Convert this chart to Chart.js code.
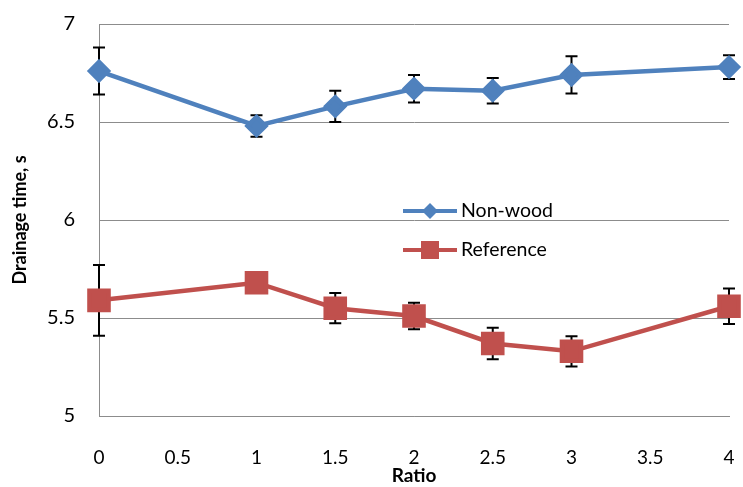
<!DOCTYPE html>
<html>
<head>
<meta charset="utf-8">
<script src="https://cdn.jsdelivr.net/npm/chart.js@4"></script>
<style>
  html, body { margin: 0; padding: 0; background: #fff; }
  #wrap { width: 743px; height: 487px; }
</style>
</head>
<body>
<div id="wrap"><canvas id="myChart" width="743" height="487"></canvas></div>
<script>
const ratios = [0, 1, 1.5, 2, 2.5, 3, 4];
const nonWood = [6.76, 6.48, 6.58, 6.67, 6.66, 6.74, 6.78];
const nonWoodErr = [0.12, 0.055, 0.08, 0.07, 0.065, 0.095, 0.06];
const reference = [5.59, 5.68, 5.55, 5.51, 5.37, 5.33, 5.56];
const referenceErr = [0.18, 0.02, 0.077, 0.068, 0.08, 0.077, 0.09];
const seriesNames = ['Non-wood', 'Reference'];
const seriesColors = ['#4F81BD', '#C0504D'];

const font = "Lato, 'Open Sans', sans-serif";

const toPoints = (vals) => vals.map((v, i) => ({ x: ratios[i], y: v }));
const plainNum = (v) => String(Math.round(v * 10) / 10);

// black error bars, drawn under the markers
const errorBars = {
  id: 'errorBars',
  beforeDatasetsDraw(chart) {
    const { ctx, scales: { x, y } } = chart;
    const errs = [nonWoodErr, referenceErr];
    ctx.save();
    ctx.strokeStyle = '#000';
    ctx.lineWidth = 2;
    chart.data.datasets.forEach((ds, d) => {
      ds.data.forEach((p, i) => {
        const px = x.getPixelForValue(p.x);
        const top = y.getPixelForValue(p.y + errs[d][i]);
        const bot = y.getPixelForValue(p.y - errs[d][i]);
        ctx.beginPath();
        ctx.moveTo(px, top); ctx.lineTo(px, bot);
        ctx.moveTo(px - 6, top); ctx.lineTo(px + 6, top);
        ctx.moveTo(px - 6, bot); ctx.lineTo(px + 6, bot);
        ctx.stroke();
      });
    });
    ctx.restore();
  }
};

// legend sitting inside the plot
const innerLegend = {
  id: 'innerLegend',
  afterDraw(chart) {
    const { ctx } = chart;
    const rows = [211, 250];
    ctx.save();
    chart.data.datasets.forEach((ds, i) => {
      const yy = rows[i];
      ctx.strokeStyle = ds.borderColor;
      ctx.lineWidth = 4;
      ctx.beginPath();
      ctx.moveTo(403, yy); ctx.lineTo(457, yy);
      ctx.stroke();
      ctx.fillStyle = ds.borderColor;
      if (ds.pointStyle === 'rectRot') {
        ctx.beginPath();
        ctx.moveTo(430, yy - 8); ctx.lineTo(438, yy); ctx.lineTo(430, yy + 8); ctx.lineTo(422, yy);
        ctx.closePath(); ctx.fill();
      } else {
        ctx.fillRect(421, yy - 9, 18, 18);
      }
      ctx.fillStyle = '#000';
      ctx.font = '19.5px ' + font;
      ctx.textBaseline = 'middle';
      ctx.fillText(ds.label, 461, yy);
    });
    ctx.restore();
  }
};

new Chart(document.getElementById('myChart'), {
  type: 'line',
  data: {
    datasets: [{
      label: seriesNames[0],
      data: toPoints(nonWood),
      borderColor: seriesColors[0],
      backgroundColor: seriesColors[0],
      borderWidth: 4.5,
      pointStyle: 'rectRot',
      pointRadius: 9,
      pointHoverRadius: 9,
      clip: false
    }, {
      label: seriesNames[1],
      data: toPoints(reference),
      borderColor: seriesColors[1],
      backgroundColor: seriesColors[1],
      borderWidth: 4.5,
      pointStyle: 'rect',
      pointRadius: 13.5,
      pointHoverRadius: 13.5,
      clip: false
    }]
  },
  options: {
    responsive: false,
    animation: false,
    layout: { autoPadding: false, padding: { top: 24, right: 14, left: 0, bottom: 0 } },
    plugins: {
      legend: { display: false },
      tooltip: { enabled: false }
    },
    scales: {
      x: {
        type: 'linear',
        min: 0, max: 4,
        grid: { display: false, drawTicks: false },
        border: { color: '#8c8c8c', width: 1 },
        ticks: { stepSize: 0.5, color: '#000', padding: 30, font: { family: font, size: 19 }, callback: plainNum },
        title: { display: true, text: 'Ratio', color: '#000', padding: { top: 0, bottom: 0 }, font: { family: font, size: 19, weight: 'bold' } },
        afterFit: (s) => { s.height = 71; s.paddingRight = 0; }
      },
      y: {
        min: 5, max: 7,
        grid: { color: '#8c8c8c', drawTicks: false },
        border: { color: '#8c8c8c', width: 1 },
        ticks: { stepSize: 0.5, color: '#000', padding: 24, font: { family: font, size: 20 }, callback: plainNum },
        title: { display: true, text: 'Drainage time, s', color: '#000', padding: { top: 9, bottom: 0 }, font: { family: font, size: 18, weight: 'bold' } },
        afterFit: (s) => { s.width = 99; s.paddingTop = 0; }
      }
    }
  },
  plugins: [errorBars, innerLegend]
});
</script>
</body>
</html>
